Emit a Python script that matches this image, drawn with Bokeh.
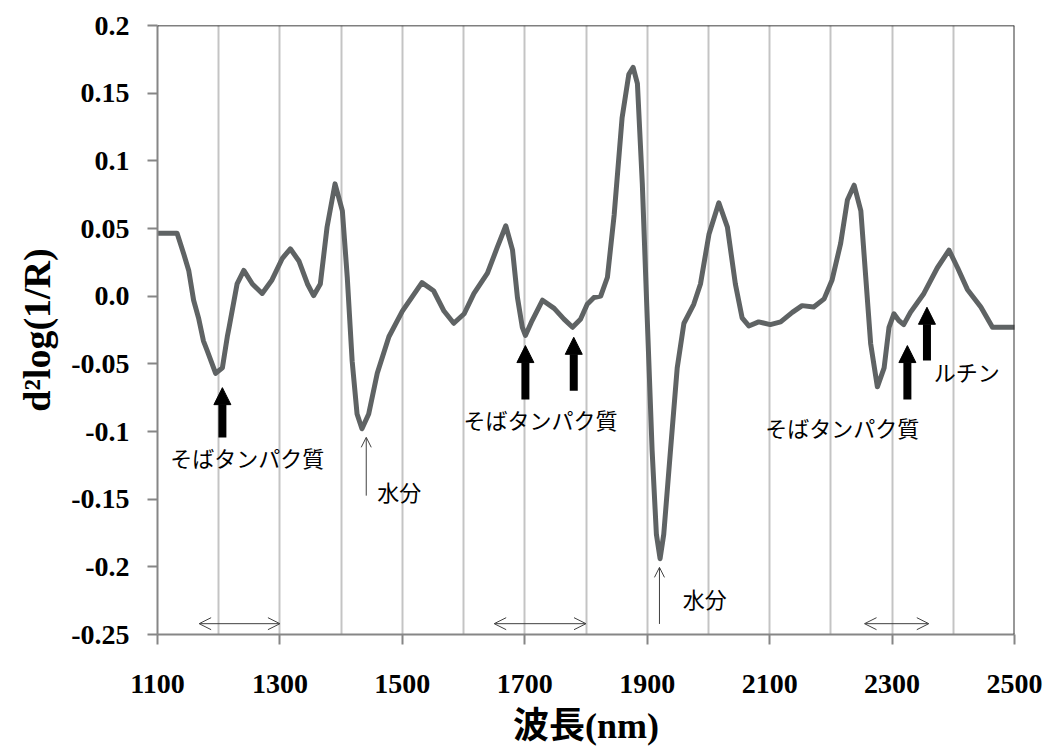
from bokeh.plotting import figure
from bokeh.models import (FixedTicker, SingleIntervalTicker, CustomJSTickFormatter, Arrow,
                          NormalHead, OpenHead, Span, Range1d, ColumnDataSource)
from bokeh.core.properties import value
from bokeh.embed import file_html
from bokeh.resources import INLINE

# ---------------- data ----------------
wavelength = [1100, 1132, 1143, 1151, 1159, 1167, 1175, 1181, 1195, 1206, 1214, 1217, 1230, 1241,
              1255, 1271, 1287, 1304, 1317, 1331, 1345, 1355, 1366, 1377, 1390, 1402, 1410, 1418,
              1426, 1434, 1445, 1459, 1478, 1500, 1532, 1551, 1568, 1584, 1601, 1617, 1639, 1655,
              1669, 1680, 1688, 1696, 1701, 1712, 1729, 1748, 1764, 1778, 1791, 1802, 1813, 1824,
              1835, 1846, 1859, 1870, 1877, 1884, 1892, 1900, 1908, 1915, 1921, 1927, 1938, 1949,
              1960, 1976, 1987, 2001, 2017, 2031, 2044, 2055, 2066, 2082, 2101, 2118, 2137, 2153,
              2172, 2189, 2202, 2216, 2227, 2238, 2249, 2257, 2265, 2276, 2287, 2295, 2303, 2311,
              2319, 2330, 2352, 2374, 2393, 2407, 2423, 2445, 2464, 2500]
d2log = [0.0465, 0.0465, 0.031, 0.019, -0.003, -0.016, -0.033, -0.040, -0.057, -0.053, -0.030,
         -0.023, 0.009, 0.019, 0.009, 0.002, 0.012, 0.028, 0.035, 0.026, 0.009, 0.0004, 0.009,
         0.051, 0.083, 0.063, 0.014, -0.048, -0.087, -0.098, -0.087, -0.057, -0.030, -0.011, 0.010,
         0.004, -0.011, -0.020, -0.013, 0.002, 0.017, 0.036, 0.052, 0.034, -0.001, -0.023, -0.029,
         -0.018, -0.003, -0.009, -0.017, -0.023, -0.017, -0.006, -0.001, 0.000, 0.014, 0.060,
         0.132, 0.164, 0.169, 0.157, 0.083, -0.016, -0.114, -0.176, -0.194, -0.176, -0.114, -0.053,
         -0.020, -0.006, 0.009, 0.046, 0.069, 0.051, 0.009, -0.016, -0.022, -0.019, -0.021, -0.019,
         -0.012, -0.007, -0.008, -0.002, 0.012, 0.039, 0.071, 0.082, 0.063, 0.014, -0.035, -0.067,
         -0.053, -0.023, -0.013, -0.018, -0.021, -0.012, 0.002, 0.021, 0.034, 0.021, 0.005, -0.008,
         -0.023, -0.023]

x_tick_values = [1100, 1300, 1500, 1700, 1900, 2100, 2300, 2500]
y_tick_values = [0.2, 0.15, 0.1, 0.05, 0.0, -0.05, -0.1, -0.15, -0.2, -0.25]
y_tick_labels = ["0.2", "0.15", "0.1", "0.05", "0.0", "-0.05", "-0.1", "-0.15", "-0.2", "-0.25"]

# annotations
bold_arrow_x = [1206, 1701, 1780, 2325, 2357]
bold_arrow_tip = [-0.0676, -0.0365, -0.0304, -0.0365, -0.0082]
bold_arrow_base = [-0.1045, -0.0764, -0.0698, -0.0764, -0.0476]

thin_arrow_x = [1441, 1920]
thin_arrow_tip = [-0.1043, -0.2004]
thin_arrow_base = [-0.1474, -0.2422]

range_start = [1168, 1650, 2255]
range_end = [1300, 1800, 2360]
range_y = [-0.242, -0.242, -0.242]

label_texts = ["そばタンパク質", "そばタンパク質", "そばタンパク質", "水分", "水分", "ルチン"]
label_x = [1121, 1600, 2093, 1459, 1958, 2368]
label_y = [-0.119, -0.0905, -0.097, -0.1437, -0.2228, -0.055]

# ---------------- figure ----------------
p = figure(frame_width=857, frame_height=609, output_backend="svg", toolbar_location=None,
           x_range=Range1d(1100, 2500), y_range=Range1d(-0.25, 0.2),
           min_border_left=157, min_border_top=25, min_border_right=30, min_border_bottom=115)
p.outline_line_color = None
p.background_fill_color = "white"
p.border_fill_color = "white"

# grid
p.ygrid.grid_line_color = None
p.xgrid.ticker = SingleIntervalTicker(interval=100)
p.xgrid.grid_line_color = "#c4c4c4"
p.xgrid.grid_line_width = 2

# top/right border lines
p.add_layout(Span(location=0.2, dimension="width", line_color="black", line_width=1.5))
p.add_layout(Span(location=2500, dimension="height", line_color="#333333", line_width=2))

# axes
serif = "Liberation Serif"
for ax in (p.xaxis[0], p.yaxis[0]):
    ax.axis_line_color = "#868686"
    ax.axis_line_width = 2
    ax.major_tick_line_color = "#868686"
    ax.major_tick_line_width = 2
    ax.major_tick_out = 10
    ax.major_tick_in = 0
    ax.minor_tick_out = 0
    ax.minor_tick_in = 0
    ax.major_label_text_font = serif
    ax.major_label_text_font_style = "bold"
    ax.major_label_text_color = "black"
    ax.axis_label_text_font_style = "bold"
    ax.axis_label_text_color = "black"

p.xaxis.ticker = FixedTicker(ticks=x_tick_values)
p.xaxis.major_label_text_font_size = "28px"
p.xaxis.major_label_standoff = 30
p.xaxis.axis_label = "波長(nm)"
p.xaxis.axis_label_text_font = "Liberation Serif, Noto Sans CJK JP"
p.xaxis.axis_label_text_font_size = "36px"
p.xaxis.axis_label_standoff = 10

p.yaxis.ticker = FixedTicker(ticks=y_tick_values)
p.yaxis.formatter = CustomJSTickFormatter(args=dict(vals=y_tick_values, labs=y_tick_labels), code="""
    for (let i = 0; i < vals.length; i++) {
        if (Math.abs(vals[i] - tick) < 1e-9) return labs[i];
    }
    return tick.toString();
""")
p.yaxis.major_label_text_font_size = "28px"
p.yaxis.major_label_standoff = 18
p.yaxis.axis_label = "d²log(1/R)"
p.yaxis.axis_label_text_font = serif
p.yaxis.axis_label_text_font_size = "38px"
p.yaxis.axis_label_standoff = 10

# curve
src = ColumnDataSource(dict(x=wavelength, y=d2log))
p.line("x", "y", source=src, line_color="#5f6364", line_width=5, line_join="round", line_cap="round")

# bold arrows
bold_src = ColumnDataSource(dict(x=bold_arrow_x, tip=bold_arrow_tip, base=bold_arrow_base))
p.add_layout(Arrow(source=bold_src, x_start="x", y_start="base", x_end="x", y_end="tip",
                   line_color="black", line_width=8,
                   end=NormalHead(size=17, fill_color="black", line_color="black", line_width=1)))

# thin arrows
thin_src = ColumnDataSource(dict(x=thin_arrow_x, tip=thin_arrow_tip, base=thin_arrow_base))
p.add_layout(Arrow(source=thin_src, x_start="x", y_start="base", x_end="x", y_end="tip",
                   line_color="#404040", line_width=1,
                   end=OpenHead(size=10, line_color="#404040", line_width=1)))

# range double arrows
range_src = ColumnDataSource(dict(xs=range_start, xe=range_end, y=range_y))
p.add_layout(Arrow(source=range_src, x_start="xs", y_start="y", x_end="xe", y_end="y",
                   line_color="#404040", line_width=1,
                   start=OpenHead(size=12, line_color="#404040", line_width=1),
                   end=OpenHead(size=12, line_color="#404040", line_width=1)))

# labels
lab_src = ColumnDataSource(dict(x=label_x, y=label_y, t=label_texts))
p.text("x", "y", text="t", source=lab_src, text_font=value("Noto Sans CJK JP"),
       text_font_size="22px", text_color="black", text_align="left", text_baseline="middle")

open("out.html", "w").write(file_html(p, INLINE))
